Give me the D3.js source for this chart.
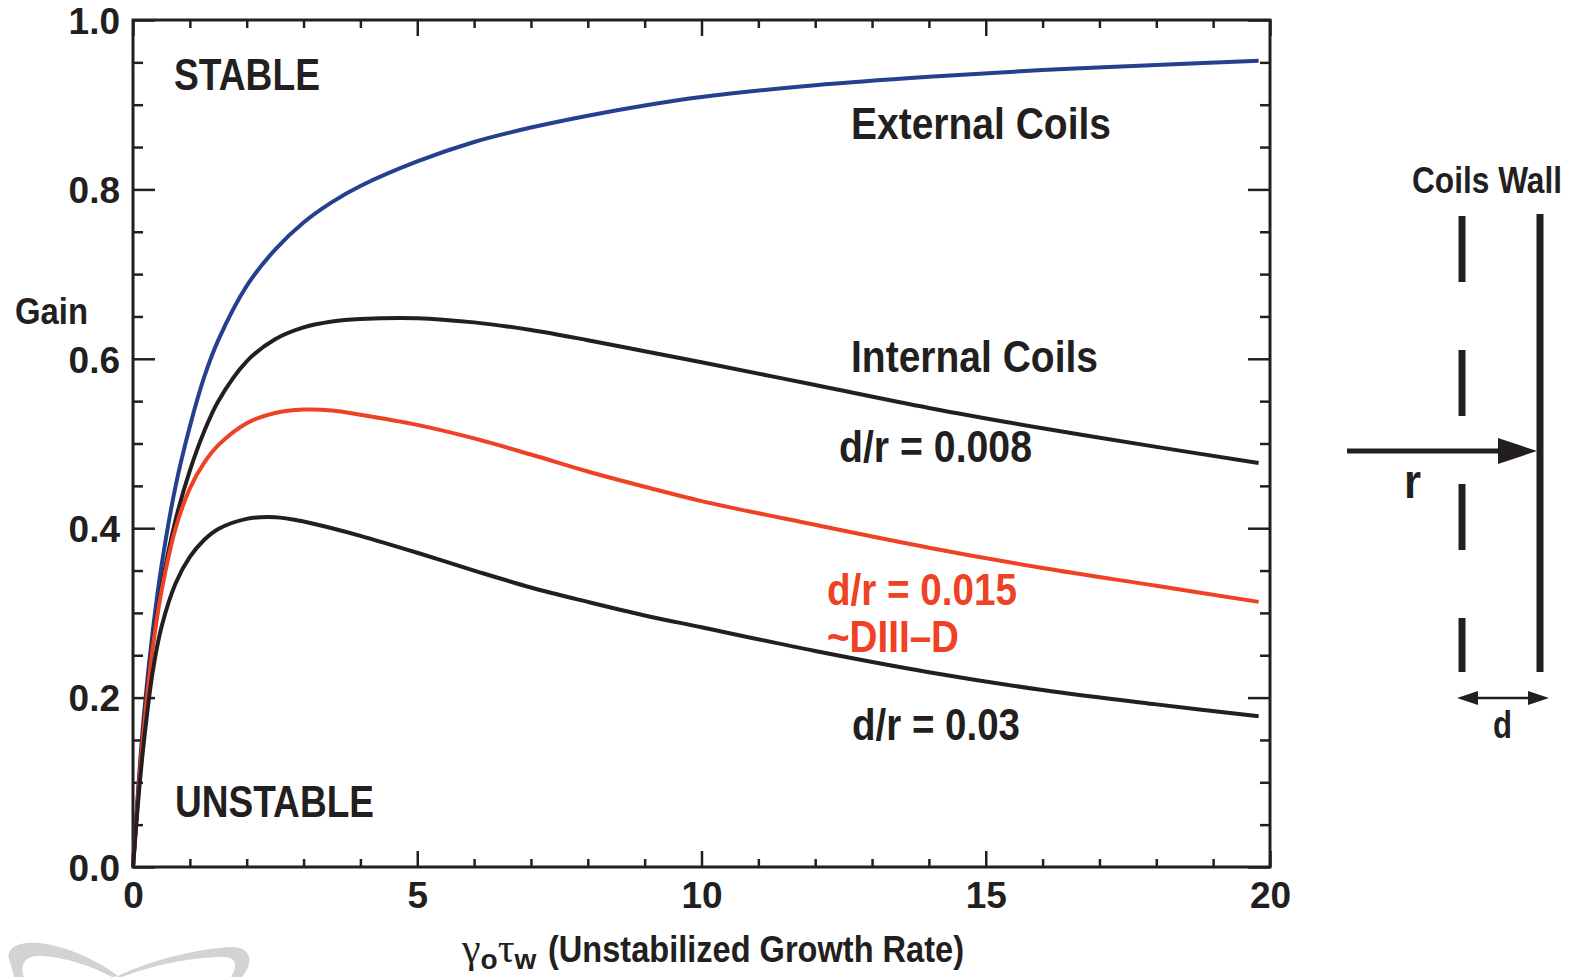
<!DOCTYPE html>
<html>
<head>
<meta charset="utf-8">
<script src="https://cdn.jsdelivr.net/npm/d3@7"></script>
<style>
  body { margin: 0; background: #fff; }
  svg text { font-family: "Liberation Sans Narrow", "Arial Narrow", "Liberation Sans", sans-serif; font-weight: bold; fill: #231f20; }
</style>
</head>
<body>
<div id="chart"></div>
<script>
// growth rate samples (gamma_0 * tau_w)
const growthRate = [0, 0.1, 0.2, 0.35, 0.5, 0.75, 1, 1.25, 1.5, 2, 2.5, 3, 3.5, 4, 5, 6, 7, 8, 9, 10, 12, 14, 16, 18, 19.8];

// gain, one array per curve
const externalCoils = [0, 0.10, 0.185, 0.28, 0.355, 0.45, 0.52, 0.578, 0.622, 0.686, 0.729, 0.761, 0.785, 0.804, 0.833, 0.856, 0.873, 0.887, 0.899, 0.909, 0.923, 0.933, 0.941, 0.947, 0.952];
const internal008 = [0, 0.095, 0.175, 0.265, 0.33, 0.41, 0.468, 0.514, 0.55, 0.597, 0.623, 0.637, 0.644, 0.647, 0.648, 0.643, 0.634, 0.622, 0.609, 0.596, 0.569, 0.542, 0.518, 0.496, 0.477];
const internal015 = [0, 0.093, 0.17, 0.26, 0.325, 0.40, 0.447, 0.477, 0.498, 0.524, 0.536, 0.540, 0.539, 0.534, 0.522, 0.506, 0.487, 0.467, 0.449, 0.432, 0.404, 0.377, 0.353, 0.332, 0.313];
const internal03 = [0, 0.085, 0.153, 0.232, 0.283, 0.335, 0.366, 0.386, 0.399, 0.411, 0.413, 0.408, 0.400, 0.391, 0.371, 0.350, 0.330, 0.313, 0.297, 0.283, 0.255, 0.230, 0.209, 0.192, 0.178];

const xMajorTicks = [0, 5, 10, 15, 20];
const yMajorTicks = [0, 0.2, 0.4, 0.6, 0.8, 1.0];

const series = [
    { name: "external", values: externalCoils, color: "#24408e" },
    { name: "d008", values: internal008, color: "#231f20" },
    { name: "d015", values: internal015, color: "#ef4123" },
    { name: "d03", values: internal03, color: "#231f20" }
];

const width = 1579, height = 977;
const plotLeft = 133, plotRight = 1270, plotTop = 20, plotBottom = 867;
const ink = "#231f20";

const svg = d3.select("#chart").append("svg")
    .attr("width", width)
    .attr("height", height);

const x = d3.scaleLinear().domain([0, 20]).range([plotLeft, plotRight]);
const y = d3.scaleLinear().domain([0, 1]).range([plotBottom, plotTop]);

const xMinor = d3.range(0, 20.01, 1).filter(v => xMajorTicks.indexOf(v) < 0);
const yMinor = d3.range(0, 1.001, 0.05).map(v => +v.toFixed(2))
    .filter(v => yMajorTicks.indexOf(v) < 0);

// watermark fragment, bottom left
svg.append("path")
    .attr("fill", "#d1d3d4")
    .attr("d", "M10,962 C4,948 18,941 40,943 C70,947 100,962 118,976 L112,977 C92,966 62,956 38,956 C24,956 20,966 24,977 L14,977 Z");
svg.append("path")
    .attr("fill", "#d1d3d4")
    .attr("d", "M116,977 C150,960 200,948 232,947 C252,947 254,963 242,977 L231,977 C238,966 236,957 224,957 C190,957 150,966 122,977 Z");

// ticks, all pointing inward
function tickLayer(axis, transform) {
    const g = svg.append("g").attr("transform", transform).call(axis);
    g.select(".domain").remove();
    g.selectAll(".tick line").attr("stroke", ink).attr("stroke-width", 2.5);
    g.attr("font-family", null).attr("font-size", null);
    return g;
}

tickLayer(d3.axisBottom(x).tickValues(xMinor).tickSize(-8).tickFormat(""), `translate(0,${plotBottom})`);
tickLayer(d3.axisTop(x).tickValues(xMinor).tickSize(-8).tickFormat(""), `translate(0,${plotTop})`);
tickLayer(d3.axisTop(x).tickValues(xMajorTicks).tickSize(-16).tickFormat(""), `translate(0,${plotTop})`);
const xAxis = tickLayer(d3.axisBottom(x).tickValues(xMajorTicks).tickSize(-16).tickFormat(d3.format("d")), `translate(0,${plotBottom})`);

tickLayer(d3.axisLeft(y).tickValues(yMinor).tickSize(-10).tickFormat(""), `translate(${plotLeft},0)`);
tickLayer(d3.axisRight(y).tickValues(yMinor).tickSize(-10).tickFormat(""), `translate(${plotRight},0)`);
tickLayer(d3.axisRight(y).tickValues(yMajorTicks).tickSize(-22).tickFormat(""), `translate(${plotRight},0)`);
const yAxis = tickLayer(d3.axisLeft(y).tickValues(yMajorTicks).tickSize(-22).tickFormat(d3.format(".1f")), `translate(${plotLeft},0)`);

xAxis.selectAll("text").attr("font-size", 37).attr("y", 15).attr("dy", "0.71em")
    .attr("fill", ink);
yAxis.selectAll("text").attr("font-size", 37).attr("x", -13).attr("dy", "0.36em")
    .attr("fill", ink);

// frame
svg.append("rect")
    .attr("x", plotLeft).attr("y", plotTop)
    .attr("width", plotRight - plotLeft).attr("height", plotBottom - plotTop)
    .attr("fill", "none").attr("stroke", ink).attr("stroke-width", 3);

// curves
const line = d3.line()
    .x((d, i) => x(growthRate[i]))
    .y(d => y(d))
    .curve(d3.curveCatmullRom.alpha(0.5));

svg.selectAll(".curve")
    .data(series)
    .enter().append("path")
    .attr("class", "curve")
    .attr("fill", "none")
    .attr("stroke", d => d.color)
    .attr("stroke-width", 4)
    .attr("stroke-linejoin", "round")
    .attr("d", d => line(d.values));

// labels inside the plot
function label(txt, lx, ly, size, len, color) {
    return svg.append("text")
        .attr("x", lx).attr("y", ly)
        .attr("font-size", size)
        .attr("textLength", len)
        .attr("lengthAdjust", "spacingAndGlyphs")
        .style("fill", color || ink)
        .text(txt);
}

label("STABLE", 174, 90, 45, 146);
label("UNSTABLE", 175, 817, 45, 199);
label("External Coils", 851, 139, 45, 260);
label("Internal Coils", 851, 372, 45, 247);
label("d/r = 0.008", 839, 462, 44, 193);
label("d/r = 0.015", 827, 605, 44, 190, "#ef4123");
label("~DIII\u2013D", 827, 652, 44, 132, "#ef4123");
label("d/r = 0.03", 852, 740, 44, 168);
label("Gain", 15, 324, 37, 73);

// x axis title with greek symbols and subscripts
const greek = "'Liberation Serif', 'DejaVu Serif', serif";
const title = svg.append("text")
    .attr("x", 462).attr("y", 962)
    .attr("font-size", 37);
title.append("tspan").style("font-family", greek)
    .style("font-weight", "normal").attr("font-size", 42).text("\u03b3");
title.append("tspan").attr("font-size", 28).attr("dy", 7).text("o");
title.append("tspan").style("font-family", greek)
    .style("font-weight", "normal").attr("font-size", 42).attr("dy", -7).text("\u03c4");
title.append("tspan").attr("font-size", 28).attr("dy", 7).text("w");
title.append("tspan").attr("x", 548).attr("dy", -7)
    .attr("textLength", 416).attr("lengthAdjust", "spacingAndGlyphs")
    .text("(Unstabilized Growth Rate)");

// schematic of coils and wall
const sk = svg.append("g");
sk.append("line")
    .attr("x1", 1462).attr("x2", 1462).attr("y1", 216).attr("y2", 672)
    .attr("stroke", ink).attr("stroke-width", 7)
    .attr("stroke-dasharray", "66 68");
sk.append("line")
    .attr("x1", 1540).attr("x2", 1540).attr("y1", 214).attr("y2", 672)
    .attr("stroke", ink).attr("stroke-width", 7);
sk.append("line")
    .attr("x1", 1347).attr("x2", 1505).attr("y1", 451).attr("y2", 451)
    .attr("stroke", ink).attr("stroke-width", 5);
sk.append("path").attr("fill", ink)
    .attr("d", "M1537,451 L1498,438 L1498,464 Z");
sk.append("line")
    .attr("x1", 1470).attr("x2", 1540).attr("y1", 698).attr("y2", 698)
    .attr("stroke", ink).attr("stroke-width", 2.5);
sk.append("path").attr("fill", ink)
    .attr("d", "M1457,698 L1478,691 L1478,705 Z");
sk.append("path").attr("fill", ink)
    .attr("d", "M1549,698 L1528,691 L1528,705 Z");

label("Coils Wall", 1562, 193, 36, 150).attr("text-anchor", "end");
label("r", 1404, 498, 48, 17);
label("d", 1493, 738, 38, 19);
</script>
</body>
</html>
